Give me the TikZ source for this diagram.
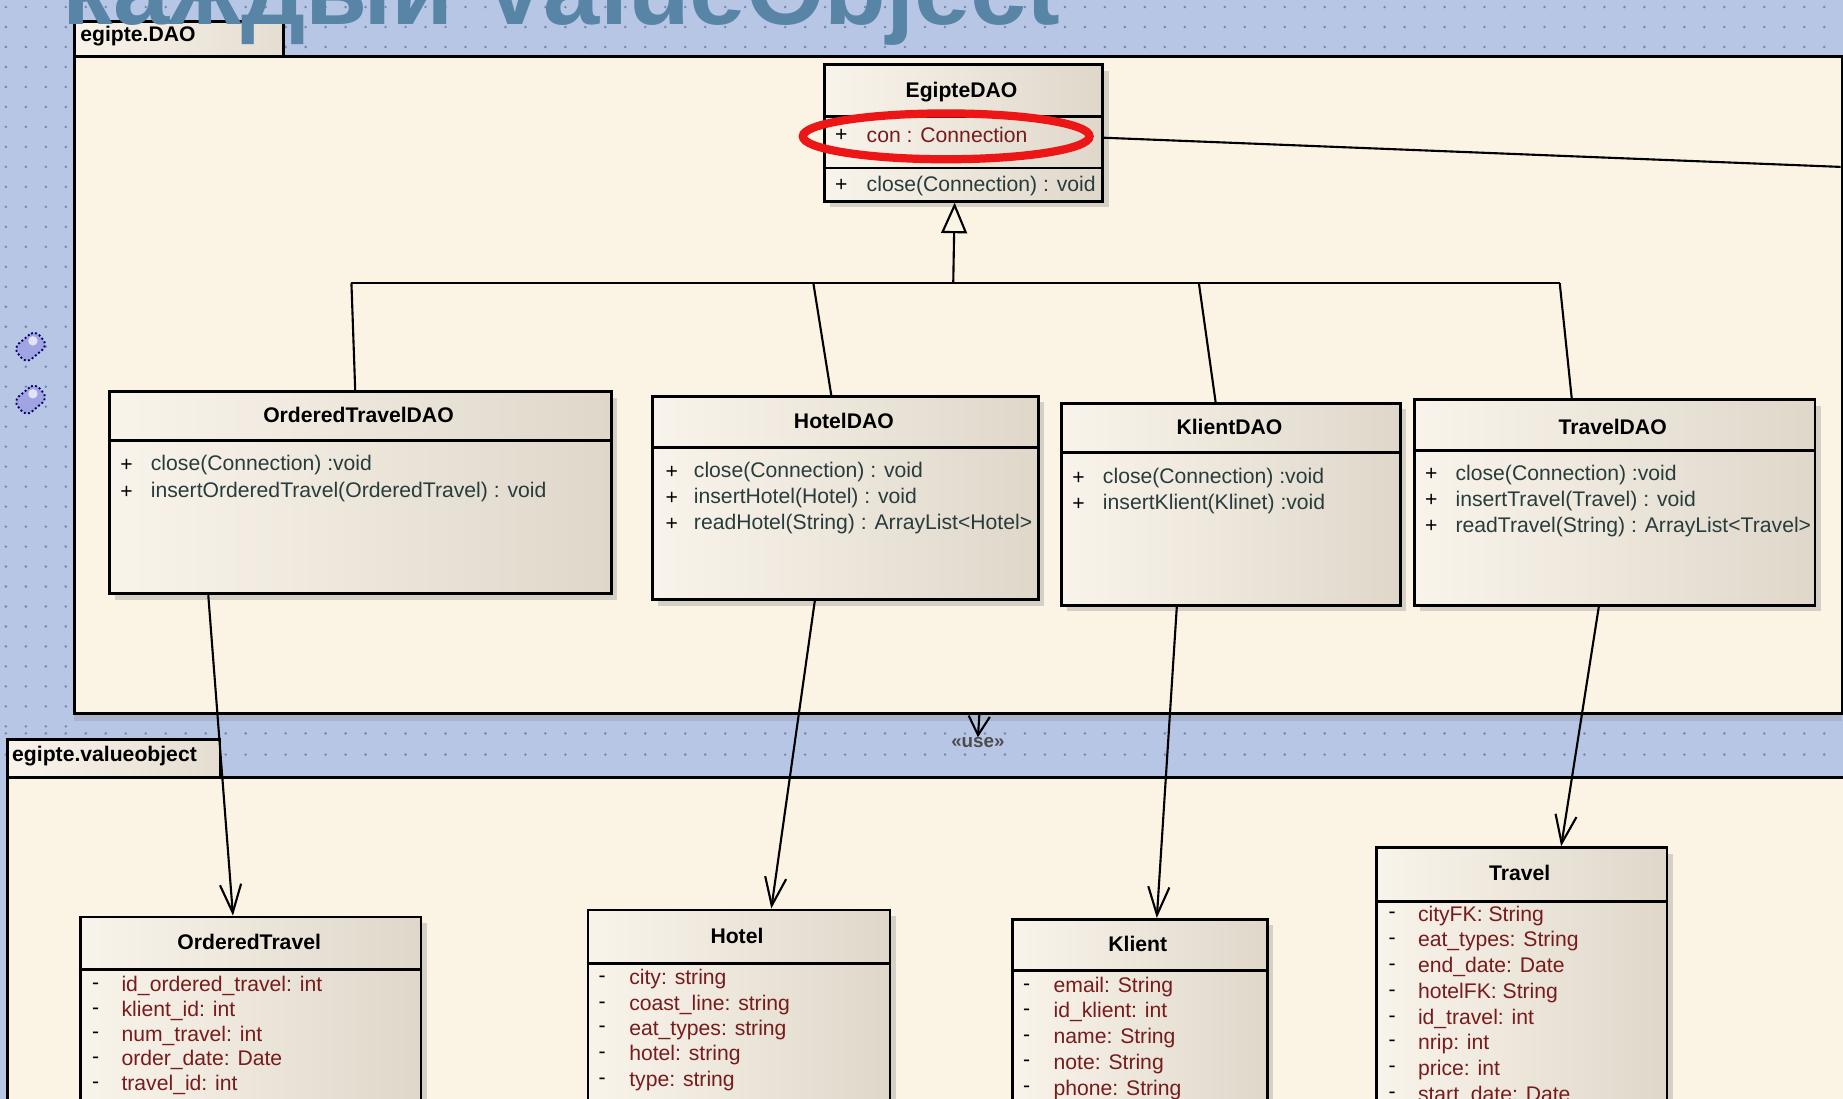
\documentclass[tikz,border=0pt]{standalone}
\usepackage{fontspec}
\setmainfont{Liberation Sans}
\usepackage{tikz}
\usetikzlibrary{arrows.meta}
\usetikzlibrary{shadows}
\usepackage{xcolor}

\definecolor{bgblue}{RGB}{184,198,230}
\definecolor{dotblue}{RGB}{120,134,172}
\definecolor{cream}{RGB}{251,243,228}
\definecolor{boxleft}{RGB}{249,244,235}
\definecolor{boxright}{RGB}{223,215,202}
\definecolor{attred}{RGB}{118,28,28}
\definecolor{opgray}{RGB}{40,60,60}
\definecolor{ringred}{RGB}{236,22,22}
\definecolor{titleblue}{RGB}{88,133,166}
\definecolor{iconblue}{RGB}{160,164,226}

\tikzset{
  pkgbody/.style={draw=black, line width=1.2pt, fill=cream, anchor=north west, inner sep=0pt,
    drop shadow={shadow xshift=0pt, shadow yshift=-3pt, opacity=0.25}},
  pkgtab/.style={draw=black, line width=1.2pt, left color=boxleft, right color=boxright!80!boxleft,
    anchor=north west, inner sep=0pt},
  tablabel/.style={anchor=west, inner sep=0pt, font=\fontsize{9}{11}\selectfont\bfseries},
  classbox/.style={draw=black, line width=1.2pt, left color=boxleft, right color=boxright,
    anchor=north west, inner sep=0pt,
    drop shadow={shadow xshift=2.5pt, shadow yshift=-2.5pt, opacity=0.3}},
  sepline/.style={line width=1.2pt},
  cname/.style={inner sep=0pt, font=\fontsize{9}{11}\selectfont\bfseries},
  vis/.style={anchor=west, inner sep=0pt},
  attr/.style={anchor=west, inner sep=0pt, text=attred},
  oper/.style={anchor=west, inner sep=0pt, text=opgray},
  genline/.style={line width=0.9pt},
  usedep/.style={line width=0.9pt, -{Straight Barb[length=12pt, width=9pt]}},
  pkguse/.style={line width=0.9pt, -{Straight Barb[length=8pt, width=9pt]}},
  noteicon/.style={draw=blue!40!black, fill=iconblue, rounded corners=3pt, densely dotted,
    line width=0.8pt, minimum width=12pt, minimum height=8.5pt, inner sep=0pt},
}

\begin{document}
\begin{tikzpicture}[x=0.5pt,y=-0.5pt, font=\fontsize{9}{11}\selectfont]
\useasboundingbox (0,0) rectangle (1568,935);
\clip (0,0) rectangle (1568,935);
\fill [bgblue] (0,0) rectangle (1568,935);

% grid of the diagram sheet
\foreach \x in {5,22,...,1568} {
  \foreach \y in {6,23,40,624,642} {
    \fill [dotblue] (\x,\y) circle (0.6pt);
  }
}
\foreach \x in {5,22,39,56} {
  \foreach \y in {57,74,...,620} {
    \fill [dotblue] (\x,\y) circle (0.6pt);
  }
}

\node [noteicon, rotate=40] (icon1) at (26,295) {};
\node [noteicon, rotate=40] (icon2) at (26,340) {};
\fill [white, opacity=0.7] (28,290) circle (2pt);
\fill [white, opacity=0.7] (28,335) circle (2pt);

% packages
\node [pkgbody, minimum width=752pt, minimum height=279.5pt] (daopkg) at (62,47) {};
\node [pkgtab, minimum width=89pt, minimum height=15pt] (daotab) at (62,17) {};
\node [tablabel] (daoname) at (68,31) {egipte.DAO};

\node [pkgbody, minimum width=830pt, minimum height=170pt] (valpkg) at (5,660) {};
\node [pkgtab, minimum width=90.5pt, minimum height=16pt] (valtab) at (5,628) {};
\node [tablabel] (valname) at (10,643) {egipte.valueobject};

% EgipteDAO
\node [classbox, minimum width=118.5pt, minimum height=58pt] (egdao) at (700,54) {};
\draw [sepline] (700,99) -- (937,99);
\draw [sepline] (700,143) -- (937,143);
\node [cname] (egdao-n) at (818,78) {EgipteDAO};
\node [vis] (egdao-v1) at (710,115) {+};
\node [attr] (egdao-a1) at (737,115) {con : Connection};
\node [vis] (egdao-v2) at (710,158) {+};
\node [oper] (egdao-o1) at (737,158) {close(Connection) : void};

% DAO classes
\node [classbox, minimum width=213.5pt, minimum height=86pt] (otdao) at (92,332) {};
\draw [sepline] (92,375) -- (519,375);
\node [cname] (otdao-n) at (305,353) {OrderedTravelDAO};
\node [vis] (otdao-v1) at (102,396) {+};
\node [oper] (otdao-o1) at (128,396) {close(Connection) :void};
\node [vis] (otdao-v2) at (102,419) {+};
\node [oper] (otdao-o2) at (128,419) {insertOrderedTravel(OrderedTravel) : void};

\node [classbox, minimum width=164pt, minimum height=86.5pt] (hodao) at (554,336) {};
\draw [sepline] (554,381) -- (882,381);
\node [cname] (hodao-n) at (718,358) {HotelDAO};
\node [vis] (hodao-v1) at (566,402) {+};
\node [oper] (hodao-o1) at (590,402) {close(Connection) : void};
\node [vis] (hodao-v2) at (566,424) {+};
\node [oper] (hodao-o2) at (590,424) {insertHotel(Hotel) : void};
\node [vis] (hodao-v3) at (566,446) {+};
\node [oper] (hodao-o3) at (590,446) {readHotel(String) : ArrayList<Hotel>};

\node [classbox, minimum width=144pt, minimum height=86pt] (kldao) at (902,342) {};
\draw [sepline] (902,385) -- (1190,385);
\node [cname] (kldao-n) at (1046,363) {KlientDAO};
\node [vis] (kldao-v1) at (912,407) {+};
\node [oper] (kldao-o1) at (938,407) {close(Connection) :void};
\node [vis] (kldao-v2) at (912,429) {+};
\node [oper] (kldao-o2) at (938,429) {insertKlient(Klinet) :void};

\node [classbox, minimum width=170.5pt, minimum height=87.5pt] (trdao) at (1202,339) {};
\draw [sepline] (1202,383) -- (1543,383);
\node [cname] (trdao-n) at (1372,363) {TravelDAO};
\node [vis] (trdao-v1) at (1212,404) {+};
\node [oper] (trdao-o1) at (1238,404) {close(Connection) :void};
\node [vis] (trdao-v2) at (1212,426) {+};
\node [oper] (trdao-o2) at (1238,426) {insertTravel(Travel) : void};
\node [vis] (trdao-v3) at (1212,448) {+};
\node [oper] (trdao-o3) at (1238,448) {readTravel(String) : ArrayList<Travel>};

% value objects
\node [classbox, minimum width=145pt, minimum height=120pt] (ot) at (67,779) {};
\draw [sepline] (67,825) -- (357,825);
\node [cname] (ot-n) at (212,801) {OrderedTravel};
\node [vis] (ot-v1) at (78,839) {-};
\node [attr] (ot-a1) at (103,839) {id\_ordered\_travel: int};
\node [vis] (ot-v2) at (78,860) {-};
\node [attr] (ot-a2) at (103,860) {klient\_id: int};
\node [vis] (ot-v3) at (78,881) {-};
\node [attr] (ot-a3) at (103,881) {num\_travel: int};
\node [vis] (ot-v4) at (78,902) {-};
\node [attr] (ot-a4) at (103,902) {order\_date: Date};
\node [vis] (ot-v5) at (78,923) {-};
\node [attr] (ot-a5) at (103,923) {travel\_id: int};

\node [classbox, minimum width=128.5pt, minimum height=120pt] (ho) at (499,773) {};
\draw [sepline] (499,820) -- (756,820);
\node [cname] (ho-n) at (627,796) {Hotel};
\node [vis] (ho-v1) at (509,833) {-};
\node [attr] (ho-a1) at (535,833) {city: string};
\node [vis] (ho-v2) at (509,855) {-};
\node [attr] (ho-a2) at (535,855) {coast\_line: string};
\node [vis] (ho-v3) at (509,876) {-};
\node [attr] (ho-a3) at (535,876) {eat\_types: string};
\node [vis] (ho-v4) at (509,898) {-};
\node [attr] (ho-a4) at (535,898) {hotel: string};
\node [vis] (ho-v5) at (509,920) {-};
\node [attr] (ho-a5) at (535,920) {type: string};

\node [classbox, minimum width=108.5pt, minimum height=120pt] (kl) at (860,781) {};
\draw [sepline] (860,826) -- (1077,826);
\node [cname] (kl-n) at (968,803) {Klient};
\node [vis] (kl-v1) at (870,840) {-};
\node [attr] (kl-a1) at (896,840) {email: String};
\node [vis] (kl-v2) at (870,861) {-};
\node [attr] (kl-a2) at (896,861) {id\_klient: int};
\node [vis] (kl-v3) at (870,883) {-};
\node [attr] (kl-a3) at (896,883) {name: String};
\node [vis] (kl-v4) at (870,905) {-};
\node [attr] (kl-a4) at (896,905) {note: String};
\node [vis] (kl-v5) at (870,927) {-};
\node [attr] (kl-a5) at (896,927) {phone: String};

\node [classbox, minimum width=123.5pt, minimum height=150pt] (tr) at (1170,720) {};
\draw [sepline] (1170,767) -- (1417,767);
\node [cname] (tr-n) at (1293,743) {Travel};
\node [vis] (tr-v1) at (1181,779) {-};
\node [attr] (tr-a1) at (1206,779) {cityFK: String};
\node [vis] (tr-v2) at (1181,801) {-};
\node [attr] (tr-a2) at (1206,801) {eat\_types: String};
\node [vis] (tr-v3) at (1181,823) {-};
\node [attr] (tr-a3) at (1206,823) {end\_date: Date};
\node [vis] (tr-v4) at (1181,845) {-};
\node [attr] (tr-a4) at (1206,845) {hotelFK: String};
\node [vis] (tr-v5) at (1181,867) {-};
\node [attr] (tr-a5) at (1206,867) {id\_travel: int};
\node [vis] (tr-v6) at (1181,888) {-};
\node [attr] (tr-a6) at (1206,888) {nrip: int};
\node [vis] (tr-v7) at (1181,910) {-};
\node [attr] (tr-a7) at (1206,910) {price: int};
\node [vis] (tr-v8) at (1181,932) {-};
\node [attr] (tr-a8) at (1206,932) {start\_date: Date};

% generalization
\coordinate (bus-ot) at (299,241);
\coordinate (bus-ho) at (692,241);
\coordinate (bus-eg) at (811,241);
\coordinate (bus-kl) at (1020,241);
\coordinate (bus-tr) at (1327,241);
\draw [genline] (bus-ot) -- (bus-tr);
\draw [genline] ([xshift=-2.25pt]otdao.north) -- (bus-ot);
\draw [genline] ([xshift=-6pt]hodao.north) -- (bus-ho);
\draw [genline] ([xshift=-6.5pt]kldao.north) -- (bus-kl);
\draw [genline] ([xshift=-18.25pt]trdao.north) -- (bus-tr);
\draw [genline, -{Triangle[open, length=13pt, width=11pt]}] (bus-eg) -- ([xshift=-3.75pt]egdao.south);

% connection to the outside
\coordinate (con-end) at (1566,142);
\draw [genline] ([yshift=-2pt]egdao.east) -- (con-end);

% usage
\draw [usedep] ([xshift=-64.75pt]otdao.south) -- ([xshift=-7.5pt]ot.north);
\draw [usedep] ([xshift=-13pt]hodao.south) -- ([xshift=13.75pt]ho.north);
\draw [usedep] ([xshift=-23pt]kldao.south) -- ([xshift=7.25pt]kl.north);
\draw [usedep] ([xshift=-6.75pt]trdao.south) -- ([xshift=16.75pt]tr.north);

\node [inner sep=0pt, text=black!70, font=\fontsize{8}{9}\selectfont\bfseries] (uselbl) at (832,632) {«use»};
\draw [pkguse] ([xshift=9pt]daopkg.south) -- (uselbl.north);

% highlight
\draw [ringred, line width=3.5pt] (805,116) ellipse [x radius=61pt, y radius=9.75pt];

\node [anchor=base west, inner sep=0pt, text=titleblue, font=\fontsize{43}{43}\selectfont\bfseries] (title) at (53,21) {каждый ValueObject};
\end{tikzpicture}
\end{document}
